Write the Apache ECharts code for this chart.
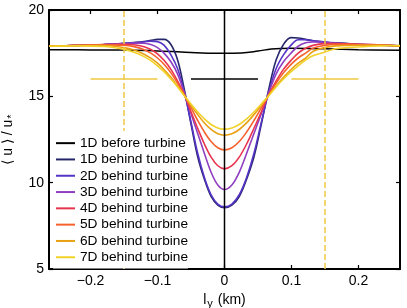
<!DOCTYPE html>
<html>
<head>
<meta charset="utf-8">
<script src="https://cdn.jsdelivr.net/npm/echarts@6/dist/echarts.min.js"></script>
<style>
html,body{margin:0;padding:0;background:#fff;}
#chart{width:407px;height:308px;}
</style>
</head>
<body>
<div id="chart"></div>
<script>
// ---- data ----
const seriesNames = ['1D before turbine','1D behind turbine','2D behind turbine','3D behind turbine',
  '4D behind turbine','5D behind turbine','6D behind turbine','7D behind turbine'];

// spanwise positions l_y (km) for the behind-turbine profiles
const lyKm = [-0.262,-0.22,-0.18,-0.15,-0.135,-0.12,-0.11,-0.10,-0.09,-0.08,-0.07,-0.06,-0.05,-0.04,-0.03,-0.02,-0.01,
  0,
  0.011,0.022,0.033,0.044,0.055,0.066,0.077,0.088,0.099,0.11,0.121,0.132,0.149,0.166,0.199,0.243,0.262];

// spanwise positions and values for the profile before the turbine
const lyBeforeKm = [-0.262,-0.2,-0.15,-0.1,-0.05,-0.025,0,0.025,0.05,0.07,0.1,0.15,0.2,0.262];
const uBefore    = [17.7,17.69,17.68,17.63,17.54,17.5,17.49,17.51,17.62,17.74,17.78,17.75,17.7,17.67];

const u1D = [17.9,17.95,18.0,18.07,18.12,18.18,18.24,18.3,18.3,18.0,17.1,15.4,13.4,11.5,10.2,9.2,8.7,
  8.55,
  8.7,9.2,10.2,11.5,13.4,15.4,17.1,18.0,18.4,18.38,18.3,18.22,18.15,18.1,18.02,17.96,17.92];
const u2D = [17.9,17.95,18.0,18.05,18.1,18.15,18.2,18.17,17.95,17.4,16.6,15.25,13.5,11.7,10.3,9.3,8.76,
  8.6,
  8.76,9.3,10.3,11.7,13.5,15.25,16.6,17.4,17.95,18.28,18.28,18.22,18.14,18.08,18.01,17.95,17.92];
const u3D = [17.9,17.95,18.0,18.05,18.08,18.07,18.0,17.82,17.49,17.0,16.29,15.2,14.0,12.85,11.69,10.6,9.86,
  9.6,
  9.86,10.6,11.69,12.85,14.0,15.2,16.29,17.0,17.49,17.9,18.1,18.15,18.13,18.07,18.0,17.95,17.92];
const u4D = [17.9,17.95,18.0,18.01,17.99,17.87,17.71,17.46,17.07,16.56,15.88,15.1,14.11,13.15,12.24,11.48,10.98,
  10.8,
  10.98,11.48,12.24,13.15,14.11,15.1,15.88,16.56,17.07,17.5,17.78,17.95,18.05,18.05,18.02,17.96,17.92];
const u5D = [17.9,17.95,17.98,17.96,17.88,17.7,17.5,17.22,16.84,16.36,15.76,15.08,14.34,13.6,12.93,12.38,12.02,
  11.9,
  12.02,12.38,12.93,13.6,14.34,15.08,15.76,16.36,16.84,17.22,17.5,17.78,17.95,18.01,18.0,17.96,17.92];
const u6D = [17.9,17.94,17.94,17.82,17.68,17.44,17.21,16.92,16.54,16.1,15.59,15.05,14.48,13.94,13.46,13.08,12.83,
  12.75,
  12.83,13.08,13.46,13.94,14.48,15.05,15.59,16.1,16.54,16.92,17.21,17.6,17.82,17.92,17.96,17.95,17.91];
const u7D = [17.9,17.92,17.89,17.72,17.56,17.3,17.07,16.77,16.42,16.0,15.54,15.03,14.56,14.09,13.69,13.37,13.17,
  13.1,
  13.17,13.37,13.69,14.09,14.56,15.03,15.54,16.0,16.42,16.77,17.1,17.35,17.55,17.76,17.86,17.93,17.94];
const behindProfiles = [u1D,u2D,u3D,u4D,u5D,u6D,u7D];

// reference markers (axis units)
const hubHeight = 16;
const rotorSpan = [-0.05, 0.05];
const sideMarkCenters = [-0.15, 0.15];
const sideMarkHalfWidth = 0.05;
const centerLineX = 0;

// axis ticks
const xTicks = [-0.2,-0.1,0,0.1,0.2];
const xTickLabels = ['\u22120.2','\u22120.1','0','0.1','0.2'];
const yMin = 5, yMax = 20, yStep = 5;
const xMin = -0.262, xMax = 0.262;

// ---- styles ----
const colors = ['#000000','#26276b','#5634c8','#8f3fc0','#e8344f','#f6622e','#e9a114','#f2d229'];
const markYellow = '#efc943';
const FONT = 'Liberation Sans, Arial, Helvetica, sans-serif';

const series = [];
series.push({
  name: seriesNames[0], type:'line', symbol:'none', smooth:0.4,
  data: lyBeforeKm.map((x,i)=>[x,uBefore[i]]),
  lineStyle:{color:colors[0], width:1.5}, itemStyle:{color:colors[0]}, z:2
});
behindProfiles.forEach((vals,k)=>{
  series.push({
    name: seriesNames[k+1], type:'line', symbol:'none', smooth:0.35,
    data: lyKm.map((x,i)=>[x, vals[i]]),
    lineStyle:{color:colors[k+1], width:1.6}, itemStyle:{color:colors[k+1]}, z:2
  });
});
// reference lines
function refLine(data, style){
  return { type:'line', symbol:'none', silent:true, z:3, data, lineStyle:style };
}
series.push(refLine([[centerLineX,yMin],[centerLineX,yMax]], {color:'#000',width:1.5}));
series.push(refLine([[rotorSpan[0],hubHeight],[rotorSpan[1],hubHeight]], {color:'#000',width:1.5}));
sideMarkCenters.forEach(c=>{
  series.push(refLine([[c-sideMarkHalfWidth,hubHeight],[c+sideMarkHalfWidth,hubHeight]], {color:markYellow,width:1.5}));
  series.push(refLine([[c,yMin],[c,yMax]], {color:markYellow,width:1.5,type:[6,3]}));
});

const frameLine = {show:true, onZero:false, lineStyle:{color:'#000', width:2}};
const option = {
  animation:false,
  backgroundColor:'#fff',
  textStyle:{fontFamily:FONT},
  grid:{left:49, right:7, top:10, bottom:39, outerBoundsMode:'none', containLabel:false},
  legend:{
    data: seriesNames.map(n=>({name:n, icon:'rect'})), orient:'vertical', left:53, top:131,
    itemWidth:19, itemHeight:2, itemGap:0,
    padding:[4,0,3,3], backgroundColor:'#fff',
    textStyle:{fontSize:13.7, color:'#000', fontFamily:FONT, lineHeight:16.3},
    selectedMode:false
  },
  xAxis:[{ type:'value', min:xMin, max:xMax, position:'bottom',
      axisLine:frameLine,
      axisTick:{show:true, inside:true, length:4, customValues:xTicks, lineStyle:{color:'#000',width:1.2}},
      axisLabel:{customValues:xTicks, fontSize:14, color:'#000', margin:5, fontFamily:FONT,
        formatter:(v)=>{ const i = xTicks.findIndex(t=>Math.abs(t-v)<1e-9); return i>=0 ? xTickLabels[i] : ''; }},
      splitLine:{show:false},
      name:'{a|l}{s|y}{a| (km)}', nameLocation:'middle', nameGap:20,
      nameTextStyle:{ rich:{ a:{fontSize:14, color:'#000', fontFamily:FONT},
        s:{fontSize:11, color:'#000', fontFamily:FONT, padding:[9,1,0,1]} } }
    },
    { type:'value', min:xMin, max:xMax, position:'top', show:true,
      axisLine:frameLine,
      axisTick:{show:true, inside:true, length:4, customValues:xTicks, lineStyle:{color:'#000',width:1.2}},
      axisLabel:{show:true, color:'rgba(0,0,0,0)', customValues:xTicks, formatter:()=>'' }, splitLine:{show:false} }
  ],
  yAxis:[{ type:'value', min:yMin, max:yMax, interval:yStep, position:'left',
      axisLine:frameLine,
      axisTick:{show:true, inside:true, length:4, lineStyle:{color:'#000',width:1.2}},
      axisLabel:{fontSize:14, color:'#000', margin:5, fontFamily:FONT},
      splitLine:{show:false},
      name:'{a|\u27e8 u \u27e9 / u}{s|*}', nameLocation:'middle', nameGap:23, nameRotate:90,
      nameTextStyle:{ rich:{ a:{fontSize:14, color:'#000', fontFamily:FONT},
        s:{fontSize:11, color:'#000', fontFamily:FONT, padding:[8,0,0,1]} } }
    },
    { type:'value', min:yMin, max:yMax, interval:yStep, position:'right', show:true,
      axisLine:frameLine,
      axisTick:{show:true, inside:true, length:4, lineStyle:{color:'#000',width:1.2}},
      axisLabel:{show:true, color:'rgba(0,0,0,0)', formatter:()=>''}, splitLine:{show:false} }
  ],
  series: series
};
const chart = echarts.init(document.getElementById('chart'), null, {renderer:'canvas'});
chart.setOption(option);
</script>
</body>
</html>
